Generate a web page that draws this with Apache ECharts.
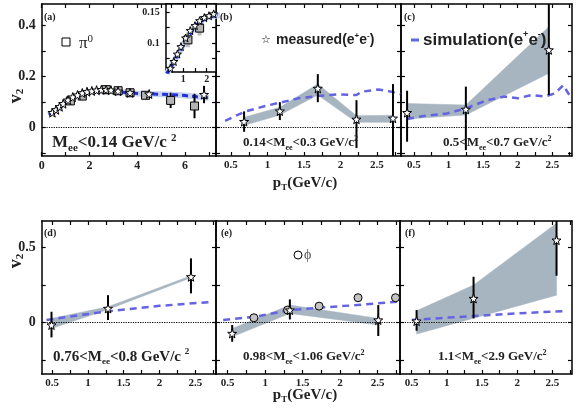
<!DOCTYPE html>
<html>
<head>
<meta charset="utf-8">
<script src="https://cdn.jsdelivr.net/npm/echarts@6/dist/echarts.min.js"></script>
<style>
html,body{margin:0;padding:0;background:#fff;}
#main{width:580px;height:409px;}
</style>
</head>
<body>
<div id="main"></div>
<script>
// ---- data ----
// (a) Mee<0.14
var aStarX = [0.45, 0.6, 0.75, 0.9, 1.1, 1.3, 1.5, 1.7, 1.9, 2.1, 2.3, 2.5, 2.7, 2.9, 3.2, 3.7, 4.5, 6.8];
var aStarY = [0.059, 0.07, 0.082, 0.094, 0.108, 0.12, 0.128, 0.136, 0.141, 0.144, 0.147, 0.149, 0.149, 0.147, 0.143, 0.137, 0.132, 0.13];
var aStarErr = [0.004, 0.004, 0.004, 0.004, 0.004, 0.004, 0.004, 0.004, 0.004, 0.004, 0.004, 0.004, 0.005, 0.005, 0.005, 0.006, 0.008, 0.034];
var pi0X = [1.2, 1.7, 2.7, 3.2, 3.7, 4.35, 5.4, 6.4];
var pi0Y = [0.105, 0.124, 0.149, 0.145, 0.137, 0.127, 0.107, 0.085];
var pi0Err = [0.006, 0.006, 0.005, 0.005, 0.006, 0.008, 0.03, 0.048];
var pi0Sys = [0.012, 0.012, 0.01, 0.01, 0.01, 0.01, 0.012, 0.014];
var simAX = [0.3, 0.5, 0.75, 1, 1.25, 1.5, 1.75, 2, 2.5, 3, 3.5, 4, 4.5, 5, 5.5, 6, 6.5, 7];
var simAY = [0.05, 0.063, 0.08, 0.097, 0.113, 0.126, 0.135, 0.141, 0.145, 0.143, 0.138, 0.134, 0.132, 0.131, 0.129, 0.126, 0.121, 0.117];

// (b) 0.14<Mee<0.3
var bStarX = [0.68, 1.17, 1.69, 2.22, 2.72];
var bStarY = [0.024, 0.065, 0.154, 0.033, 0.037];
var bErrLo = [-0.016, 0.03, 0.1, -0.08, -0.13];
var bErrHi = [0.064, 0.1, 0.21, 0.108, 0.171];
var bBandLo = [0.009, 0.05, 0.128, 0.021, 0.021];
var bBandHi = [0.041, 0.08, 0.171, 0.047, 0.049];
var simBX = [0.42, 0.69, 0.97, 1.17, 1.42, 1.69, 1.97, 2.22, 2.29, 2.52, 2.70, 2.82];
var simBY = [0.027, 0.063, 0.085, 0.098, 0.115, 0.124, 0.131, 0.128, 0.141, 0.150, 0.141, 0.132];

// (c) 0.5<Mee<0.7
var cStarX = [0.40, 1.25, 2.45];
var cStarY = [0.059, 0.072, 0.305];
var cErrLo = [-0.055, -0.088, 0.128];
var cErrHi = [0.145, 0.161, 0.6];
var cBandLo = [0.034, 0.05, 0.213];
var cBandHi = [0.095, 0.089, 0.396];
var simCX = [0.40, 0.64, 0.98, 1.25, 1.56, 1.81, 2.0, 2.2, 2.39, 2.54, 2.66, 2.73, 2.78];
var simCY = [0.034, 0.046, 0.056, 0.076, 0.108, 0.122, 0.115, 0.128, 0.122, 0.135, 0.167, 0.135, 0.115];

// (d) 0.76<Mee<0.8
var dStarX = [0.49, 1.28, 2.44];
var dStarY = [-0.015, 0.095, 0.305];
var dErrLo = [-0.097, 0.018, 0.195];
var dErrHi = [0.073, 0.183, 0.427];
var dBandLo = [-0.038, 0.088, 0.298];
var dBandHi = [0.029, 0.106, 0.312];
var simDX = [0.42, 0.85, 1.3, 2.0, 2.75];
var simDY = [0.018, 0.048, 0.077, 0.112, 0.139];

// (e) 0.98<Mee<1.06
var eStarX = [0.56, 1.33, 2.51];
var eStarY = [-0.071, 0.084, 0.018];
var eErrLo = [-0.126, 0.022, -0.088];
var eErrHi = [-0.015, 0.155, 0.117];
var eBandLo = [-0.093, 0.062, -0.015];
var eBandHi = [-0.038, 0.117, 0.029];
var phiX = [0.85, 1.30, 1.72, 2.24, 2.74];
var phiY = [0.033, 0.084, 0.11, 0.166, 0.166];
var phiErr = [0.008, 0.01, 0.012, 0.012, 0.025];
var simEX = [0.44, 0.87, 1.33, 1.73, 2.22, 2.76];
var simEY = [0.018, 0.04, 0.084, 0.10, 0.117, 0.139];

// (f) 1.1<Mee<2.9
var fStarX = [0.57, 1.38, 2.56];
var fStarY = [0.011, 0.161, 0.548];
var fErrLo = [-0.053, 0.029, 0.312];
var fErrHi = [0.084, 0.305, 0.68];
var fBandLo = [-0.075, 0.03, 0.183];
var fBandHi = [0.08, 0.25, 0.66];
var simFX = [0.5, 1.0, 1.38, 2.0, 2.66];
var simFY = [0.018, 0.034, 0.044, 0.062, 0.077];

// tick values
var aXTicks = [0, 1, 2, 3, 4, 5, 6, 7];
var aXLabels = [0, 2, 4, 6];
var ptTicks = [0.5, 0.75, 1, 1.25, 1.5, 1.75, 2, 2.25, 2.5, 2.75];
var ptLabels = [0.5, 1, 1.5, 2, 2.5];
var topYTicks = [-0.1, 0, 0.1, 0.2, 0.3, 0.4];
var topYLabels = [0, 0.2, 0.4];
var botYTicks = [-0.25, 0, 0.25, 0.5];
var botYLabels = [0, 0.5];
var insXTicks = [0.5, 1, 1.5, 2];
var insXLabels = [1, 2];
var insYTicks = [0.075, 0.1, 0.125, 0.15];
var insYLabels = [0.1, 0.15];

var SERIF = "'Liberation Serif','DejaVu Serif',serif";
var SANS = "'Liberation Sans','DejaVu Sans',sans-serif";
var STAR = 'path://M0,-10L2.35,-3.24L9.51,-3.09L3.8,1.24L5.88,8.09L0,4L-5.88,8.09L-3.8,1.24L-9.51,-3.09L-2.35,-3.24Z';
var SIM = '#6464e2';
var BAND = '#a7b5c1';

var grids = [], xAxes = [], yAxes = [], series = [];

function zip(xs, ys) { return xs.map(function (x, i) { return [x, ys[i]]; }); }

function panel(rect, xr, yr, xt, xl, yt, yl, o) {
    o = o || {};
    var gi = grids.length;
    grids.push({left: rect[0], top: rect[1], width: rect[2], height: rect[3], outerBoundsMode: 'none',
        show: !!o.bg, backgroundColor: '#fff', borderWidth: 0, z: o.z || 2});
    var line = {show: true, onZero: false, lineStyle: {color: '#000', width: 1.5}};
    var tick = {show: true, inside: true, length: 4, customValues: null, lineStyle: {color: '#000', width: 1.2}};
    var lab = {fontFamily: SERIF, fontWeight: 'bold', color: '#222'};
    var xi = xAxes.length, yi = yAxes.length;
    xAxes.push({gridIndex: gi, type: 'value', min: xr[0], max: xr[1], position: 'bottom', z: o.z,
        axisLine: line, axisTick: Object.assign({}, tick, {customValues: xt}),
        axisLabel: Object.assign({customValues: xl, fontSize: o.xfs || 11, margin: o.xm || 4}, lab),
        splitLine: {show: false}});
    xAxes.push({gridIndex: gi, type: 'value', min: xr[0], max: xr[1], position: 'top', z: o.z,
        axisLine: line, axisTick: Object.assign({}, tick, {customValues: xt}),
        axisLabel: {show: false}, splitLine: {show: false}});
    yAxes.push({gridIndex: gi, type: 'value', min: yr[0], max: yr[1], position: 'left', z: o.z,
        axisLine: line, axisTick: Object.assign({}, tick, {customValues: yt}),
        axisLabel: Object.assign({show: !!yl, customValues: yl || [], fontSize: o.yfs || 14, margin: 6}, lab),
        splitLine: {show: false}});
    yAxes.push({gridIndex: gi, type: 'value', min: yr[0], max: yr[1], position: 'right', z: o.z,
        axisLine: line, axisTick: Object.assign({}, tick, {customValues: yt}),
        axisLabel: {show: false}, splitLine: {show: false}});
    return {x: xi, y: yi, z: o.z || 0};
}

function zeroLine(p) {
    series.push({type: 'line', xAxisIndex: p.x, yAxisIndex: p.y, data: [], symbol: 'none', silent: true,
        markLine: {silent: true, symbol: 'none', label: {show: false}, animation: false,
            lineStyle: {type: 'dotted', color: '#000', width: 1.2}, data: [{yAxis: 0}]}});
}

function band(p, xs, lo, hi, color) {
    series.push({type: 'custom', xAxisIndex: p.x, yAxisIndex: p.y, clip: true, silent: true, z: p.z + 1,
        data: xs.map(function (x, i) { return [x, lo[i], hi[i]]; }),
        encode: {x: 0, y: [1, 2]},
        renderItem: function (params, api) {
            if (params.dataIndex !== 0) return {type: 'group', children: []};
            var pts = [];
            for (var i = 0; i < xs.length; i++) pts.push(api.coord([xs[i], hi[i]]));
            for (var j = xs.length - 1; j >= 0; j--) pts.push(api.coord([xs[j], lo[j]]));
            return {type: 'polygon', shape: {points: pts}, style: {fill: color, stroke: color, lineWidth: 0.5}};
        }});
}

function sim(p, xs, ys, color, width, dash) {
    series.push({type: 'line', xAxisIndex: p.x, yAxisIndex: p.y, data: zip(xs, ys), symbol: 'none',
        silent: true, clip: true, z: p.z + 2,
        lineStyle: {type: dash || [7, 5], width: width || 2.5, color: color || SIM}});
}

function errBars(p, xs, lo, hi, color, width) {
    series.push({type: 'custom', xAxisIndex: p.x, yAxisIndex: p.y, clip: true, silent: true, z: p.z + 3,
        data: xs.map(function (x, i) { return [x, lo[i], hi[i]]; }),
        encode: {x: 0, y: [1, 2]},
        renderItem: function (params, api) {
            var a = api.coord([api.value(0), api.value(1)]);
            var b = api.coord([api.value(0), api.value(2)]);
            return {type: 'line', shape: {x1: a[0], y1: a[1], x2: b[0], y2: b[1]},
                style: {stroke: color || '#000', lineWidth: width || 2}};
        }});
}

function points(p, xs, ys, symbol, size, fill) {
    series.push({type: 'scatter', xAxisIndex: p.x, yAxisIndex: p.y, data: zip(xs, ys), clip: true,
        symbol: symbol, symbolSize: size, silent: true, z: p.z + 4,
        itemStyle: {color: fill || '#fff', borderColor: '#000', borderWidth: 1, opacity: 1}});
}

function lo(ys, es) { return ys.map(function (y, i) { return y - es[i]; }); }
function hi(ys, es) { return ys.map(function (y, i) { return y + es[i]; }); }

// ---- panels ----
var topRow = [4, 152], botRow = [221, 153];
var yTop = [-0.111, 0.485], yBot = [-0.34, 0.675];

var pa = panel([41.7, topRow[0], 174.3, topRow[1]], [0, 7.3], yTop, aXTicks, aXLabels, topYTicks, topYLabels, {xfs: 12});
zeroLine(pa);
sim(pa, simAX, simAY, '#c9d5ef', 6, 'solid');
sim(pa, simAX, simAY, '#2430d8', 3, [6, 4]);
errBars(pa, pi0X, lo(pi0Y, pi0Sys), hi(pi0Y, pi0Sys), '#bdbdbd', 4);
errBars(pa, pi0X, lo(pi0Y, pi0Err), hi(pi0Y, pi0Err), '#000', 2);
errBars(pa, aStarX, lo(aStarY, aStarErr), hi(aStarY, aStarErr), '#000', 2);
points(pa, pi0X, pi0Y, 'rect', 8, '#b4b4b4');
points(pa, aStarX, aStarY, STAR, 9, '#fff');

var pb = panel([216, topRow[0], 185, topRow[1]], [0.295, 2.83], yTop, ptTicks, ptLabels, topYTicks, null);
zeroLine(pb);
band(pb, bStarX, bBandLo, bBandHi, BAND);
sim(pb, simBX, simBY);
errBars(pb, bStarX, bErrLo, bErrHi);
points(pb, bStarX, bStarY, STAR, 9);

var pc = panel([401, topRow[0], 171, topRow[1]], [0.312, 2.785], yTop, ptTicks, ptLabels, topYTicks, null);
zeroLine(pc);
band(pc, cStarX, cBandLo, cBandHi, BAND);
sim(pc, simCX, simCY);
errBars(pc, cStarX, cErrLo, cErrHi);
points(pc, cStarX, cStarY, STAR, 9);

var pd = panel([41.7, botRow[0], 174.3, botRow[1]], [0.353, 2.79], yBot, ptTicks, ptLabels, botYTicks, botYLabels);
zeroLine(pd);
band(pd, dStarX, dBandLo, dBandHi, BAND);
sim(pd, simDX, simDY);
errBars(pd, dStarX, dErrLo, dErrHi);
points(pd, dStarX, dStarY, STAR, 9);

var pe = panel([216, botRow[0], 184, botRow[1]], [0.344, 2.8], yBot, ptTicks, ptLabels, botYTicks, null);
zeroLine(pe);
band(pe, eStarX, eBandLo, eBandHi, BAND);
sim(pe, simEX, simEY);
errBars(pe, phiX, lo(phiY, phiErr), hi(phiY, phiErr), '#888', 2);
errBars(pe, eStarX, eErrLo, eErrHi);
points(pe, phiX, phiY, 'circle', 8, '#c4c4c4');
points(pe, eStarX, eStarY, STAR, 9);

var pf = panel([400, botRow[0], 172, botRow[1]], [0.334, 2.78], yBot, ptTicks, ptLabels, botYTicks, null);
zeroLine(pf);
band(pf, fStarX, fBandLo, fBandHi, BAND);
sim(pf, simFX, simFY);
errBars(pf, fStarX, fErrLo, fErrHi);
points(pf, fStarX, fStarY, STAR, 9);

// inset of (a)
var pi = panel([165.7, 4, 50.3, 68], [0.25, 2.4], [0.053, 0.163], insXTicks, insXLabels, insYTicks, insYLabels,
    {bg: true, z: 10, xfs: 10, yfs: 10, xm: 2});
sim(pi, simAX, simAY, '#c9d5ef', 6, 'solid');
sim(pi, simAX, simAY, '#2430d8', 3.5, [6, 3]);
errBars(pi, pi0X, lo(pi0Y, pi0Sys), hi(pi0Y, pi0Sys), '#bdbdbd', 4);
points(pi, pi0X, pi0Y, 'rect', 8, '#b4b4b4');
points(pi, aStarX, aStarY, STAR, 8, '#fff');

// ---- text ----
function mee(pre, post, fs) {
    var sub = Math.round(fs * 0.62);
    return {
        text: '{m|' + pre + 'M}{s|ee}{m|' + post + '}{p|2}',
        rich: {
            m: {fontFamily: SERIF, fontWeight: 'bold', fontSize: fs, lineHeight: fs + 4, fill: '#222'},
            s: {fontFamily: SERIF, fontWeight: 'bold', fontSize: sub, lineHeight: sub, verticalAlign: 'bottom', fill: '#222'},
            p: {fontFamily: SERIF, fontWeight: 'bold', fontSize: sub, lineHeight: sub, verticalAlign: 'top', fill: '#222'}
        }
    };
}
function txt(x, y, style, extra) {
    var s = Object.assign({align: 'left', verticalAlign: 'middle'}, style);
    return Object.assign({type: 'text', x: x, y: y, z: 100, silent: true, style: s}, extra || {});
}
var tag = {fontFamily: SERIF, fontWeight: 'bold', fontSize: 10, fill: '#222'};

var graphics = [
    txt(44, 17, Object.assign({text: '(a)'}, tag)),
    txt(220, 17, Object.assign({text: '(b)'}, tag)),
    txt(404, 17, Object.assign({text: '(c)'}, tag)),
    txt(44, 233, Object.assign({text: '(d)'}, tag)),
    txt(221, 233, Object.assign({text: '(e)'}, tag)),
    txt(405, 233, Object.assign({text: '(f)'}, tag)),
    {type: 'rect', x: 62, y: 38, z: 100, silent: true, shape: {width: 8, height: 8}, style: {fill: '#fff', stroke: '#000', lineWidth: 1}},
    txt(79, 44, {text: '{m|π}{p|0}', rich: {
        m: {fontFamily: SERIF, fontSize: 17, lineHeight: 20, fill: '#222'},
        p: {fontFamily: SERIF, fontSize: 11, lineHeight: 11, verticalAlign: 'top', fill: '#222'}}}),
    txt(261, 40, {text: '☆', fontFamily: 'DejaVu Sans', fontSize: 11, fill: '#111'}),
    txt(276, 40, {text: '{t|measured(e}{u|+}{t|e}{u|-}{t|)}', rich: {
        t: {fontFamily: SANS, fontWeight: 'bold', fontSize: 14, lineHeight: 17, fill: '#222'},
        u: {fontFamily: SANS, fontWeight: 'bold', fontSize: 8, lineHeight: 8, verticalAlign: 'top', fill: '#222'}}}),
    {type: 'line', z: 100, silent: true, shape: {x1: 411, y1: 40, x2: 419, y2: 40}, style: {stroke: SIM, lineWidth: 3}},
    txt(423, 40, {text: '{t|simulation(e}{u|+}{t|e}{u|-}{t|)}', rich: {
        t: {fontFamily: SANS, fontWeight: 'bold', fontSize: 17, lineHeight: 20, fill: '#222'},
        u: {fontFamily: SANS, fontWeight: 'bold', fontSize: 9, lineHeight: 9, verticalAlign: 'top', fill: '#222'}}}),
    {type: 'circle', z: 100, silent: true, shape: {cx: 298, cy: 255, r: 4}, style: {fill: '#fff', stroke: '#000', lineWidth: 1}},
    txt(304, 255, {text: 'ϕ', fontFamily: SERIF, fontSize: 14, fill: '#555'}),
    txt(52, 143, mee('', '<0.14 GeV/c ', 17)),
    txt(243, 143, mee('0.14<', '<0.3 GeV/c', 13)),
    txt(443, 143, mee('0.5<', '<0.7 GeV/c', 13)),
    txt(53, 357, mee('0.76<', '<0.8 GeV/c ', 15)),
    txt(243, 357, mee('0.98<', '<1.06 GeV/c', 13)),
    txt(438, 357, mee('1.1<', '<2.9 GeV/c', 13))
];
function vLabel(y) {
    return txt(16, y, {text: '{v|v}{s|2}', align: 'center', rich: {
        v: {fontFamily: SERIF, fontWeight: 'bold', fontSize: 18, lineHeight: 20, fill: '#222'},
        s: {fontFamily: SERIF, fontWeight: 'bold', fontSize: 11, lineHeight: 11, verticalAlign: 'bottom', fill: '#222'}}},
        {rotation: Math.PI / 2});
}
function pLabel(y) {
    return txt(305, y, {text: '{p|p}{s|T}{p|(GeV/c)}', align: 'center', rich: {
        p: {fontFamily: SERIF, fontWeight: 'bold', fontSize: 15, lineHeight: 18, fill: '#222'},
        s: {fontFamily: SERIF, fontWeight: 'bold', fontSize: 9, lineHeight: 9, verticalAlign: 'bottom', fill: '#222'}}});
}
graphics.push(vLabel(96), vLabel(261), pLabel(183), pLabel(395));

var myChart = echarts.init(document.getElementById('main'), null, {renderer: 'canvas'});
myChart.setOption({
    animation: false,
    backgroundColor: '#fff',
    grid: grids,
    xAxis: xAxes,
    yAxis: yAxes,
    series: series,
    graphic: graphics
});
</script>
</body>
</html>
